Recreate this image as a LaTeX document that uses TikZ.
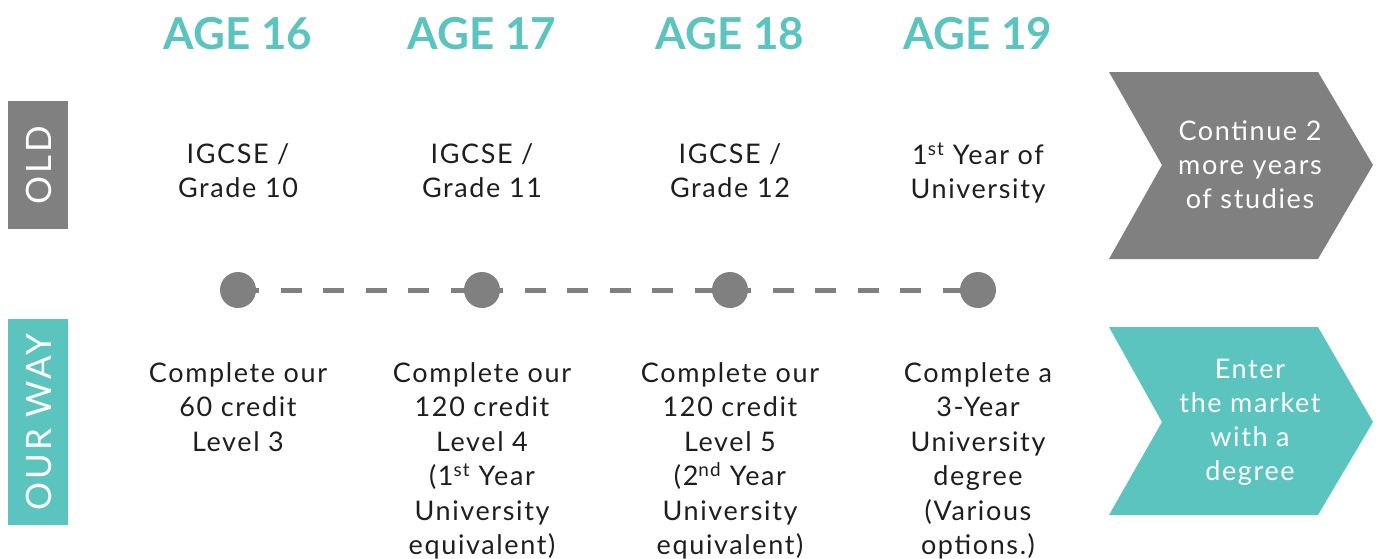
\documentclass[tikz,border=0pt]{standalone}
\usepackage{fontspec}
\setmainfont{Lato}
\newfontfamily\bodyf{Lato}[LetterSpace=6]
\newfontfamily\sidef{Lato}[LetterSpace=8]
\usetikzlibrary{backgrounds}
\definecolor{tealc}{HTML}{5BC4BF}
\definecolor{grayc}{HTML}{808080}
\definecolor{txtc}{HTML}{1E1E1E}
\tikzset{
  agelbl/.style={text=tealc, font=\fontsize{44}{48}\selectfont\bfseries, inner sep=0pt},
  oldtxt/.style={text=txtc, font=\bodyf\fontsize{27}{34}\selectfont, align=center, anchor=north, inner sep=0pt},
  newtxt/.style={text=txtc, font=\bodyf\fontsize{27}{34.5}\selectfont, align=center, anchor=north, inner sep=0pt},
  sidelbl/.style={text=white, font=\sidef\fontsize{35}{40}\selectfont, rotate=90, inner sep=0pt},
  chevtxt/.style={text=white, font=\bodyf\fontsize{27}{34}\selectfont, align=center, inner sep=0pt},
  dotc/.style={circle, fill=grayc, minimum size=36pt, inner sep=0pt},
  dashline/.style={draw=grayc, line width=5pt, dash pattern=on 21pt off 21.5pt},
}
\begin{document}
\begin{tikzpicture}[x=1pt,y=-1pt]
\useasboundingbox (0,0) rectangle (1376,558);
% side bars
\fill[grayc] (8,101) rectangle (68,229);
\fill[tealc] (8,319) rectangle (68,525);
\node[sidelbl] (oldlbl) at (39,165) {OLD};
\node[sidelbl] (ourlbl) at (39,422) {OUR WAY};
% age labels
\node[agelbl] (a16) at (238,34) {AGE 16};
\node[agelbl] (a17) at (482,34) {AGE 17};
\node[agelbl] (a18) at (730,34) {AGE 18};
\node[agelbl] (a19) at (978,34) {AGE 19};
% old row
\node[oldtxt] (o1) at (238,143) {IGCSE /\\Grade 10};
\node[oldtxt] (o2) at (482,143) {IGCSE /\\Grade 11};
\node[oldtxt] (o3) at (730,143) {IGCSE /\\Grade 12};
\node[oldtxt] (o4) at (978,143) {1\textsuperscript{st} Year of\\University};
% dots
\node[dotc] (d1) at (238,290) {};
\node[dotc] (d2) at (482,290) {};
\node[dotc] (d3) at (730,290) {};
\node[dotc] (d4) at (978,290) {};
\begin{scope}[on background layer]
\draw[dashline] (d1.center) -- (d2.center);
\draw[dashline] (d2.center) -- (d3.center);
\draw[dashline] (d3.center) -- (d4.center);
\end{scope}
% our way row
\node[newtxt] (n1) at (238,362) {Complete our\\60 credit\\Level 3};
\node[newtxt] (n2) at (482,362) {Complete our\\120 credit\\Level 4\\(1\textsuperscript{st} Year\\University\\equivalent)};
\node[newtxt] (n3) at (730,362) {Complete our\\120 credit\\Level 5\\(2\textsuperscript{nd} Year\\University\\equivalent)};
\node[newtxt] (n4) at (978,362) {Complete a\\3-Year\\University\\degree\\(Various\\options.)};
% chevrons
\fill[grayc] (1109,72) -- (1318,72) -- (1373,165) -- (1318,259) -- (1109,259) -- (1162,165) -- cycle;
\fill[tealc] (1109,327) -- (1318,327) -- (1373,422) -- (1318,515) -- (1109,515) -- (1162,422) -- cycle;
\node[chevtxt] (c1) at (1250,165) {Continue 2\\more years\\of studies};
\node[chevtxt] (c2) at (1250,422) {Enter\\the market\\with a\\degree};
\end{tikzpicture}
\end{document}
